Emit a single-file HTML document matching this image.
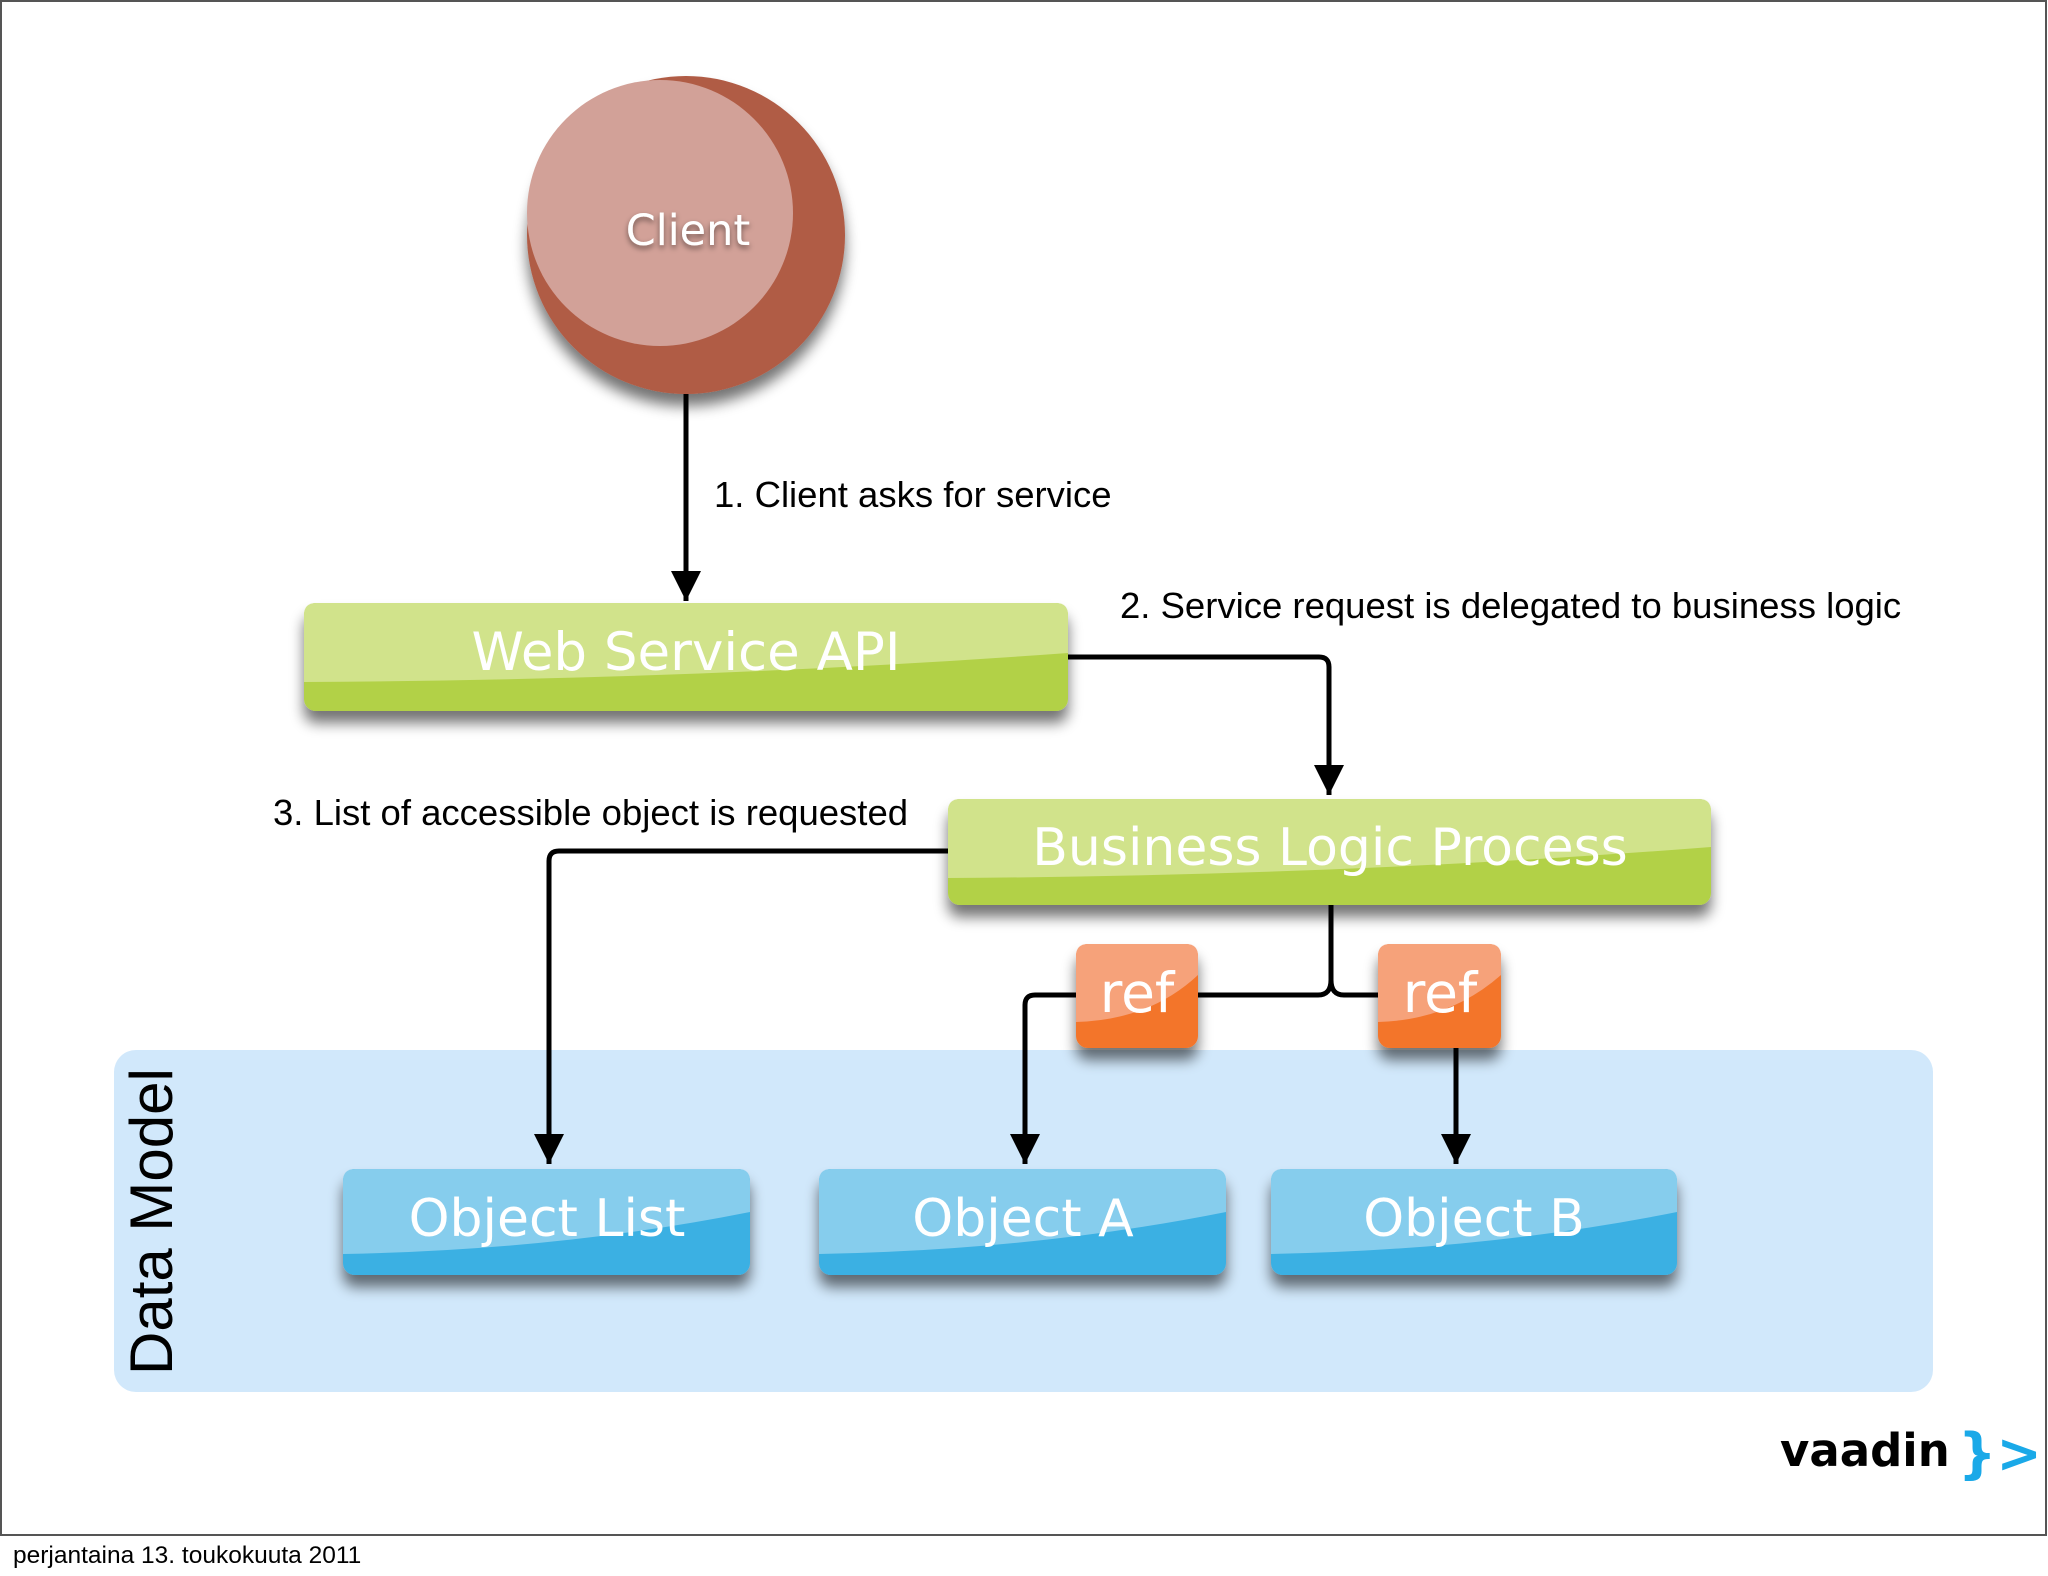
<!DOCTYPE html>
<html><head><meta charset="utf-8"><style>
html,body{margin:0;padding:0;background:#fff;}
svg{display:block;}
.lbl{font-family:"Liberation Sans",Arial,sans-serif;font-size:36.5px;fill:#000;}
.bt{font-family:"DejaVu Sans","Liberation Sans",sans-serif;fill:#fff;text-anchor:middle;}
</style></head><body>
<svg width="2048" height="1576" viewBox="0 0 2048 1576" xmlns="http://www.w3.org/2000/svg">
<defs>
<filter id="sh" x="-10%" y="-20%" width="120%" height="160%"><feGaussianBlur in="SourceAlpha" stdDeviation="7"/><feOffset dy="12"/><feComponentTransfer><feFuncA type="linear" slope="0.55"/></feComponentTransfer><feMerge><feMergeNode/><feMergeNode in="SourceGraphic"/></feMerge></filter>
<filter id="tsh"><feGaussianBlur in="SourceAlpha" stdDeviation="3"/><feOffset dy="3"/><feComponentTransfer><feFuncA type="linear" slope="0.5"/></feComponentTransfer><feMerge><feMergeNode/><feMergeNode in="SourceGraphic"/></feMerge></filter>
<marker id="ar" viewBox="0 0 10 10" refX="10" refY="5" markerWidth="30" markerHeight="40" markerUnits="userSpaceOnUse" orient="auto"><path d="M0,0 L10,5 L0,10 z" fill="#000"/></marker>
</defs>
<rect x="1" y="1" width="2045" height="1534" fill="#fff" stroke="#555" stroke-width="2"/>
<rect x="114" y="1050" width="1819" height="342" rx="22" fill="#d1e8fb"/>
<text x="0" y="0" transform="translate(172,1375) rotate(-90)" style="font-family:'Liberation Sans',sans-serif;font-size:60px;fill:#000">Data Model</text>
<g filter="url(#sh)"><circle cx="686" cy="235" r="159" fill="#b05b45"/></g>
<circle cx="660" cy="213" r="133" fill="#d2a198"/>
<text class="bt" x="688" y="245" font-size="43" filter="url(#tsh)">Client</text>
<g stroke="#000" stroke-width="5" fill="none">
<line x1="686" y1="394" x2="686" y2="601" marker-end="url(#ar)"/>
<path d="M1068,657 H1319 Q1329,657 1329,667 V795" marker-end="url(#ar)"/>
<path d="M950,851 H559 Q549,851 549,861 V1164" marker-end="url(#ar)"/>
<path d="M1331,905 V980 Q1331,995 1318,995 H1035 Q1025,995 1025,1005 V1164" marker-end="url(#ar)"/>
<path d="M1331,980 Q1331,995 1344,995 H1400"/>
<line x1="1456" y1="1040" x2="1456" y2="1164" marker-end="url(#ar)"/>
</g>
<text class="lbl" x="714" y="507">1. Client asks for service</text>
<text class="lbl" x="1120" y="618">2. Service request is delegated to business logic</text>
<text class="lbl" x="273" y="825">3. List of accessible object is requested</text>
<g filter="url(#sh)">
<rect x="304" y="603" width="764" height="108" rx="12" fill="#b2d147"/>
<rect x="948" y="799" width="763" height="106" rx="12" fill="#b2d147"/>
</g>
<path d="M316,603 H1056 Q1068,603 1068,615 V653 Q700,680 304,682 V615 Q304,603 316,603 Z" fill="#d1e38b"/>
<path d="M960,799 H1699 Q1711,799 1711,811 V847 Q1340,876 948,878 V811 Q948,799 960,799 Z" fill="#d1e38b"/>
<text class="bt" x="686" y="670" font-size="53">Web Service API</text>
<text class="bt" x="1330" y="865" font-size="52">Business Logic Process</text>
<g filter="url(#sh)">
<rect x="1076" y="944" width="122" height="104" rx="12" fill="#f37529"/>
<rect x="1378" y="944" width="123" height="104" rx="12" fill="#f37529"/>
</g>
<path d="M1088,944 H1186 Q1198,944 1198,956 V975 Q1150,1020 1076,1022 V956 Q1076,944 1088,944 Z" fill="#f6a27a"/>
<path d="M1390,944 H1489 Q1501,944 1501,956 V975 Q1450,1020 1378,1022 V956 Q1378,944 1390,944 Z" fill="#f6a27a"/>
<text class="bt" x="1137" y="1012" font-size="55">ref</text>
<text class="bt" x="1440" y="1012" font-size="55">ref</text>
<g filter="url(#sh)">
<rect x="343" y="1169" width="407" height="106" rx="12" fill="#3bb0e3"/>
<rect x="819" y="1169" width="407" height="106" rx="12" fill="#3bb0e3"/>
<rect x="1271" y="1169" width="406" height="106" rx="12" fill="#3bb0e3"/>
</g>
<path d="M355,1169 H738 Q750,1169 750,1181 V1212 Q560,1250 343,1254 V1181 Q343,1169 355,1169 Z" fill="#86cded"/>
<path d="M831,1169 H1214 Q1226,1169 1226,1181 V1212 Q1036,1250 819,1254 V1181 Q819,1169 831,1169 Z" fill="#86cded"/>
<path d="M1283,1169 H1665 Q1677,1169 1677,1181 V1212 Q1487,1250 1271,1254 V1181 Q1271,1169 1283,1169 Z" fill="#86cded"/>
<text class="bt" x="547" y="1236" font-size="52">Object List</text>
<text class="bt" x="1023" y="1236" font-size="52">Object A</text>
<text class="bt" x="1474" y="1236" font-size="52">Object B</text>
<text x="1780" y="1466" style="font-family:'DejaVu Sans',sans-serif;font-weight:bold;font-size:45px;fill:#000">vaadin</text>
<text x="1958" y="1472" style="font-family:'DejaVu Sans',sans-serif;font-weight:bold;font-size:54px;fill:#1aa9e8">}&gt;</text>
<text x="13" y="1563" style="font-family:'Liberation Sans',sans-serif;font-size:24.5px;fill:#000">perjantaina 13. toukokuuta 2011</text>
</svg>
</body></html>
